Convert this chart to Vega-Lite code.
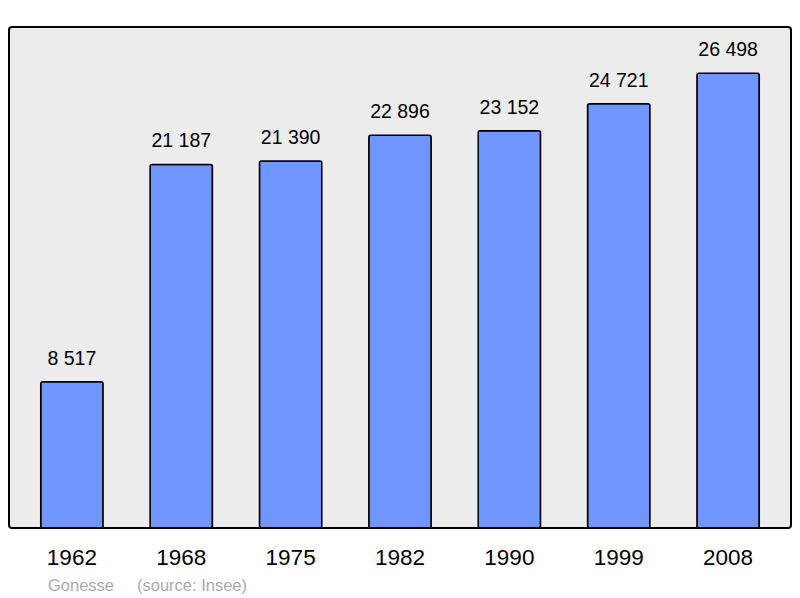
{
  "$schema": "https://vega.github.io/schema/vega-lite/v6.json",
  "width": 782,
  "height": 501,
  "autosize": {"type": "none"},
  "padding": {"left": 9, "top": 27, "right": 9, "bottom": 70},
  "background": "#ffffff",
  "title": {
    "text": "Gonesse\u00a0\u00a0\u00a0\u00a0\u00a0(source: Insee)",
    "orient": "bottom",
    "anchor": "start",
    "dx": 39,
    "offset": 9,
    "fontSize": 16.5,
    "fontWeight": "normal",
    "color": "#aaaaaa",
    "font": "Liberation Sans"
  },
  "data": {
    "values": [
      {"year": "1962", "population": 8517},
      {"year": "1968", "population": 21187},
      {"year": "1975", "population": 21390},
      {"year": "1982", "population": 22896},
      {"year": "1990", "population": 23152},
      {"year": "1999", "population": 24721},
      {"year": "2008", "population": 26498}
    ]
  },
  "encoding": {
    "x": {
      "field": "year",
      "type": "ordinal",
      "scale": {"paddingInner": 0.43, "paddingOuter": 0.29},
      "axis": {
        "title": null,
        "labelAngle": 0,
        "labelFontSize": 22.5,
        "labelPadding": 18,
        "labelColor": "#000000",
        "ticks": false,
        "domain": false,
        "labelFont": "Liberation Sans"
      }
    },
    "y": {
      "field": "population",
      "type": "quantitative",
      "scale": {"domain": [0, 29200], "nice": false},
      "axis": null
    }
  },
  "layer": [
    {
      "mark": {"type": "bar", "fill": "#7097ff", "stroke": "#000000", "strokeWidth": 1.5, "cornerRadius": 2}
    },
    {
      "mark": {"type": "text", "baseline": "alphabetic", "dy": -17, "fontSize": 19.5, "font": "Liberation Sans", "color": "#000000"},
      "encoding": {
        "text": {"field": "population", "type": "quantitative", "format": ",d"}
      }
    }
  ],
  "config": {
    "locale": {
      "number": {"decimal": ",", "thousands": "\u00a0", "grouping": [3], "currency": ["", "\u00a0€"]}
    },
    "view": {"fill": "#ececec", "stroke": "#000000", "strokeWidth": 2, "cornerRadius": 3},
    "axis": {"grid": false}
  }
}
